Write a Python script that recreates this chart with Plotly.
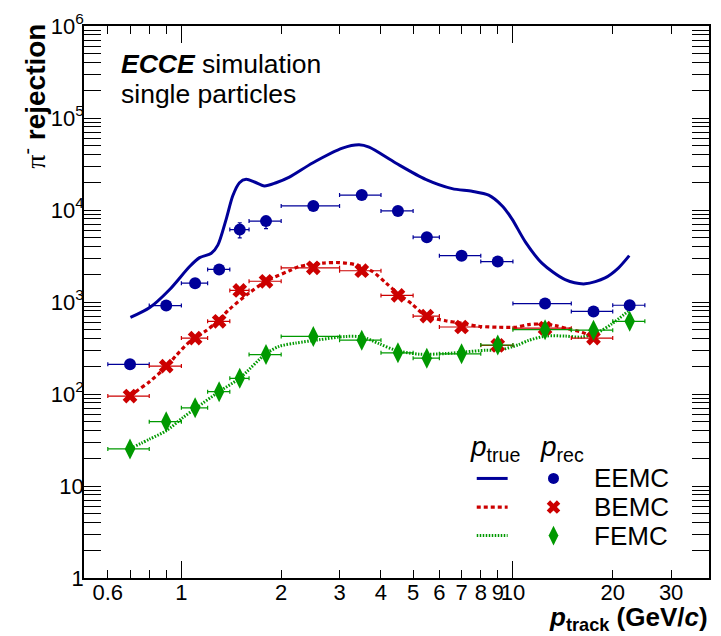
import plotly.graph_objects as go

# ---------------- data ----------------
x_centers = [0.7, 0.9, 1.1, 1.3, 1.5, 1.8, 2.5, 3.5, 4.5, 5.5, 7.0, 9.0, 12.5, 17.5, 22.5]
bin_lo = [0.6, 0.8, 1.0, 1.2, 1.4, 1.6, 2.0, 3.0, 4.0, 5.0, 6.0, 8.0, 10.0, 15.0, 20.0]
bin_hi = [0.8, 1.0, 1.2, 1.4, 1.6, 2.0, 3.0, 4.0, 5.0, 6.0, 8.0, 10.0, 15.0, 20.0, 25.0]

eemc_rec = [210, 915, 1600, 2260, 6120, 7570, 11060, 14520, 9780, 5060, 3190, 2750, 962, 789, 922]
eemc_err_up = [0, 0, 0, 0, 1150, 850, 0, 0, 0, 0, 0, 0, 0, 0, 0]
eemc_err_dn = [0, 0, 0, 0, 1140, 1300, 0, 0, 0, 0, 0, 0, 0, 0, 0]

bemc_rec = [95, 201, 405, 617, 1335, 1680, 2355, 2187, 1180, 703, 535, 338, 519, 405]
femc_rec = [25.3, 50, 70.8, 106, 148, 268, 422, 385, 280, 245, 273, 341, 500, 494, 617]

eemc_true_x = [0.702, 0.803, 0.922, 1.059, 1.135, 1.231, 1.288, 1.366, 1.429, 1.497, 1.568, 1.661,
               1.780, 1.930, 2.117, 2.487, 3.061, 3.436, 3.683, 4.43, 5.454, 6.556, 7.53, 8.45,
               9.27, 9.93, 10.9, 12.23, 14.37, 16.51, 18.96, 20.79, 22.43]
eemc_true_y = [680, 871, 1368, 2432, 3035, 3383, 4150, 8020, 14260, 19800, 21530, 20140,
               18250, 19800, 22790, 32430, 46970, 51060, 48110, 32430, 21530, 17070, 16000, 14510,
               11140, 8020, 4508, 2644, 1750, 1575, 1827, 2337, 3190]

bemc_true_x = [0.70, 0.732, 0.803, 0.901, 0.966, 1.059, 1.189, 1.274, 1.397, 1.605, 1.80, 2.117,
               2.268, 2.666, 2.992, 3.359, 3.768, 4.135, 4.533, 4.970, 5.454, 6.263, 7.025, 7.885,
               9.06, 10.17, 11.15, 12.23, 13.41, 14.71, 16.13, 17.13]
bemc_true_y = [95, 107, 137, 198, 264, 370, 489, 601, 836, 1262, 1679, 2186,
               2432, 2644, 2685, 2535, 2148, 1615, 1210, 945, 708, 626, 587, 545,
               532, 532, 567, 577, 553, 510, 470, 429]

femc_true_x = [0.715, 0.803, 0.901, 1.011, 1.109, 1.304, 1.497, 1.801, 1.975, 2.217, 2.605, 3.134,
               3.516, 3.948, 4.43, 5.206, 6.263, 7.193, 8.26, 9.06, 9.93, 10.40, 11.15, 12.52,
               14.37, 16.13, 18.1, 19.85, 22.28]
femc_true_y = [26.4, 32.4, 39.9, 55.4, 70.8, 107, 148, 275, 330, 358, 389, 422,
               416, 352, 299, 271, 275, 287, 299, 299, 325, 344, 382, 426,
               426, 416, 470, 577, 795]

x_tick_vals = [0.6, 1, 2, 3, 4, 5, 6, 7, 8, 9, 10, 20, 30]
x_tick_text = ["0.6", "1", "2", "3", "4", "5", "6", "7", "8", "9", "10", "20", "30"]
x_minor_vals = [0.7, 0.8, 0.9]
x_long_vals = [1, 10]
y_tick_vals = [1, 10, 100, 1e3, 1e4, 1e5, 1e6]
y_tick_text = ["1", "10", "10<sup>2</sup>", "10<sup>3</sup>", "10<sup>4</sup>", "10<sup>5</sup>", "10<sup>6</sup>"]
y_minor_vals = [m * 10 ** k for k in range(0, 6) for m in range(2, 10)]

BLUE = "#000099"
RED = "#CC0000"
GREEN = "#009900"
FONT = "Liberation Sans, Arial, Helvetica, sans-serif"

# ---------------- geometry ----------------
W, H = 721, 636
L, R, T, B = 84, 10, 18, 58
PW, PH = W - L - R, H - T - B
X_RANGE = [-0.2937, 1.5914]
Y_RANGE = [0, 6]


def px_x(px):
    return (px - L) / PW


def px_y(py):
    return (H - B - py) / PH


def data_x(px):
    return 10 ** (X_RANGE[0] + px_x(px) * (X_RANGE[1] - X_RANGE[0]))


def data_y(py):
    return 10 ** (Y_RANGE[0] + px_y(py) * (Y_RANGE[1] - Y_RANGE[0]))


def xerr(vals_c, lo, hi, col):
    return dict(type="data", symmetric=False,
                array=[h - c for c, h in zip(vals_c, hi)],
                arrayminus=[c - l for c, l in zip(vals_c, lo)],
                thickness=1.2, width=2, color=col)


fig = go.Figure()

# true-momentum curves
fig.add_trace(go.Scatter(x=eemc_true_x, y=eemc_true_y, mode="lines",
                         line=dict(color=BLUE, width=3, shape="spline", smoothing=0.8)))
fig.add_trace(go.Scatter(x=bemc_true_x, y=bemc_true_y, mode="lines",
                         line=dict(color=RED, width=3.2, shape="spline", smoothing=0.8, dash="4px,3px")))
fig.add_trace(go.Scatter(x=femc_true_x, y=femc_true_y, mode="lines",
                         line=dict(color=GREEN, width=3, shape="spline", smoothing=0.8, dash="1.5px,1.5px")))

# reconstructed-momentum points
fig.add_trace(go.Scatter(x=x_centers, y=eemc_rec, mode="markers",
                         marker=dict(symbol="circle", size=12, color=BLUE, opacity=1),
                         error_x=xerr(x_centers, bin_lo, bin_hi, BLUE),
                         error_y=dict(type="data", symmetric=False, array=eemc_err_up,
                                      arrayminus=eemc_err_dn, color=BLUE, thickness=1.2, width=2)))
n_b = len(bemc_rec)
fig.add_trace(go.Scatter(x=x_centers[:n_b], y=bemc_rec, mode="markers",
                         marker=dict(symbol="x", size=13, color=RED, opacity=1, line=dict(width=0)),
                         error_x=xerr(x_centers[:n_b], bin_lo[:n_b], bin_hi[:n_b], RED)))
fig.add_trace(go.Scatter(x=x_centers, y=femc_rec, mode="markers",
                         marker=dict(symbol="diamond-tall", size=15, color=GREEN, opacity=1, line=dict(width=0)),
                         error_x=xerr(x_centers, bin_lo, bin_hi, GREEN)))

# legend samples
leg_rows = [477, 506, 535]
leg_symbols = ["circle", "x", "diamond-tall"]
leg_sizes = [11, 12, 14]
leg_colors = [BLUE, RED, GREEN]
for r, s, sz, c in zip(leg_rows, leg_symbols, leg_sizes, leg_colors):
    fig.add_trace(go.Scatter(x=[data_x(555)], y=[data_y(r)], mode="markers",
                             marker=dict(symbol=s, size=sz, color=c, opacity=1, line=dict(width=0))))

shapes = []
for r, col, dash, wd in zip(leg_rows, leg_colors, ["solid", "4px,3px", "1.5px,1.5px"], [3, 3.2, 3]):
    shapes.append(dict(type="line", xref="paper", yref="paper",
                       x0=px_x(478), x1=px_x(509), y0=px_y(r), y1=px_y(r),
                       line=dict(color=col, width=wd, dash=dash)))

annotations = []
for r, name in zip(leg_rows, ["EEMC", "BEMC", "FEMC"]):
    annotations.append(dict(xref="paper", yref="paper", x=px_x(594), y=px_y(r),
                            xanchor="left", yanchor="middle", showarrow=False, text=name,
                            font=dict(family=FONT, size=26, color="black")))
annotations.append(dict(xref="paper", yref="paper", x=px_x(469), y=px_y(447),
                        xanchor="left", yanchor="middle", showarrow=False,
                        text="<i>p</i><sub>true</sub>", font=dict(family=FONT, size=28, color="black")))
annotations.append(dict(xref="paper", yref="paper", x=px_x(539), y=px_y(447),
                        xanchor="left", yanchor="middle", showarrow=False,
                        text="<i>p</i><sub>rec</sub>", font=dict(family=FONT, size=28, color="black")))

# labels
annotations.append(dict(xref="paper", yref="paper", x=px_x(119), y=px_y(57),
                        xanchor="left", yanchor="middle", showarrow=False,
                        text="<b><i>ECCE</i></b> simulation", font=dict(family=FONT, size=26.5, color="black")))
annotations.append(dict(xref="paper", yref="paper", x=px_x(119), y=px_y(87),
                        xanchor="left", yanchor="middle", showarrow=False,
                        text="single particles", font=dict(family=FONT, size=26.5, color="black")))
annotations.append(dict(xref="paper", yref="paper", x=px_x(33), y=px_y(14),
                        xanchor="center", yanchor="top", showarrow=False, textangle=-90,
                        text="<span style=\"font-family:Liberation Serif\">π</span><sup>-</sup> <b>rejection</b>",
                        font=dict(family=FONT, size=28, color="black")))
annotations.append(dict(xref="paper", yref="paper", x=px_x(712), y=px_y(600),
                        xanchor="right", yanchor="top", showarrow=False,
                        text="<b><i>p</i><sub>track</sub> (GeV/<i>c</i>)</b>",
                        font=dict(family=FONT, size=26, color="black")))

axis_common = dict(showgrid=False, zeroline=False, ticks="inside", mirror="allticks",
                   tickcolor="black", tickwidth=1, linecolor="black", linewidth=1.5, showline=True,
                   tickfont=dict(family=FONT, size=22, color="black"))

fig.update_layout(
    width=W, height=H,
    margin=dict(l=L, r=R, t=T, b=B),
    paper_bgcolor="white", plot_bgcolor="white",
    showlegend=False,
    shapes=shapes, annotations=annotations,
    xaxis=dict(type="log", range=X_RANGE, tickmode="array", tickvals=x_tick_vals, ticktext=x_tick_text,
               ticklen=8.5, tickangle=0, ticklabelstandoff=-6,
               minor=dict(tickmode="array", tickvals=x_minor_vals, ticks="inside", ticklen=8.5,
                          tickcolor="black", tickwidth=1, showgrid=False),
               **axis_common),
    xaxis2=dict(type="log", range=X_RANGE, overlaying="x", anchor="y", side="bottom",
                tickmode="array", tickvals=x_long_vals, showticklabels=False, ticks="inside",
                ticklen=17, tickwidth=1, tickcolor="black", mirror="allticks",
                showline=False, showgrid=False, zeroline=False),
    yaxis=dict(type="log", range=Y_RANGE, tickmode="array", tickvals=y_tick_vals, ticktext=y_tick_text,
               ticklen=17, ticklabelstandoff=-6,
               minor=dict(tickmode="array", tickvals=y_minor_vals, ticks="inside", ticklen=8.5,
                          tickcolor="black", tickwidth=1, showgrid=False),
               **axis_common),
)

# invisible trace so the overlay x2 axis (long ticks at 1 and 10) is drawn
fig.add_trace(go.Scatter(x=[1], y=[1], xaxis="x2", yaxis="y", mode="markers",
                         marker=dict(opacity=0), hoverinfo="skip"))

fig.write_html("out.html", config={"displayModeBar": False})
